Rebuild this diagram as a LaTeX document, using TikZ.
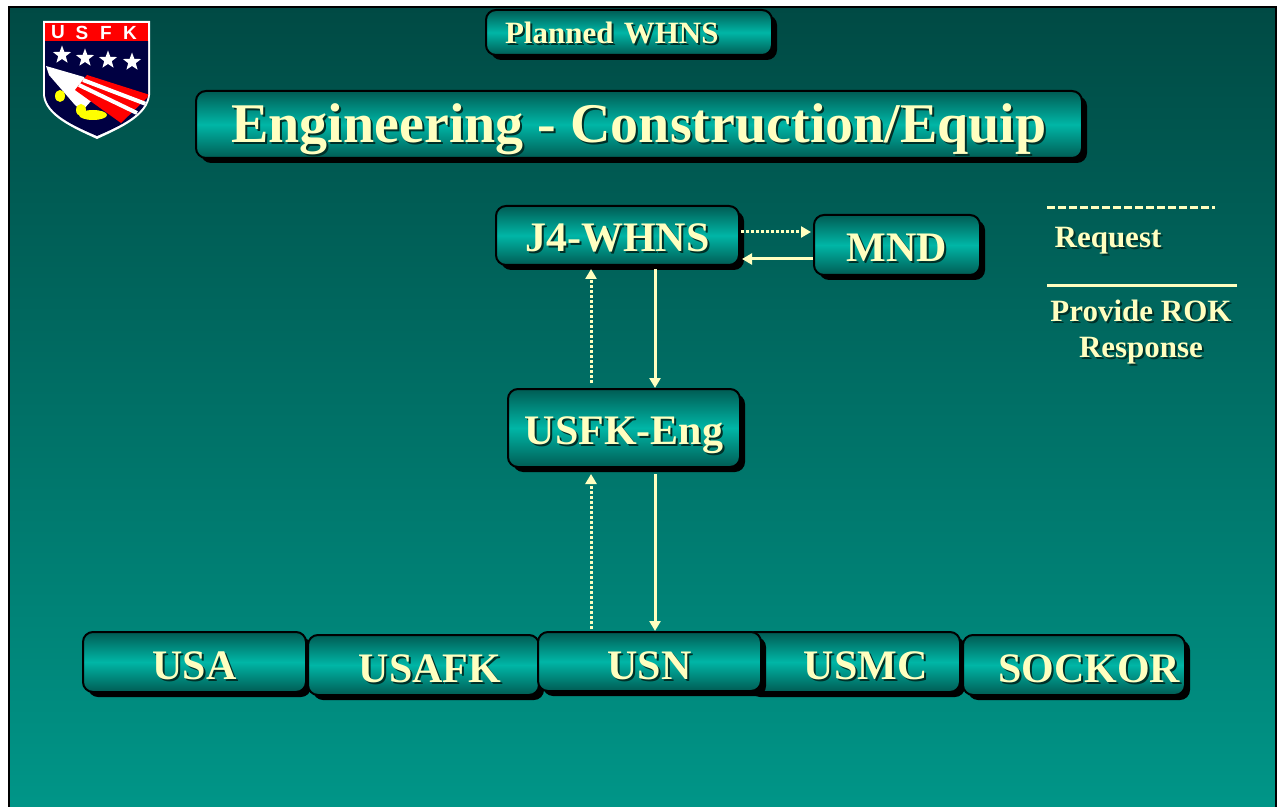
\documentclass[tikz,border=0pt]{standalone}
\usepackage{fontspec}
\setmainfont{Liberation Serif}
\newfontfamily\logofont{Liberation Sans}
\usepackage{xcolor}
\usepackage{tikz}
\usetikzlibrary{positioning, shapes.geometric, arrows.meta, shadows}

\definecolor{bgtop}{RGB}{0,74,68}
\definecolor{bgbot}{RGB}{0,150,136}
\definecolor{boxdark}{RGB}{0,92,84}
\definecolor{boxlight}{RGB}{0,182,166}
\definecolor{txtyellow}{RGB}{255,255,192}
\definecolor{txtshade}{RGB}{0,48,40}
\definecolor{shieldblue}{RGB}{0,0,66}
\definecolor{shieldred}{RGB}{255,0,0}
\definecolor{shieldgold}{RGB}{255,255,0}

% yellow text with a dark offset copy behind it
\newcommand{\shtxt}[1]{\makebox[0pt][l]{\kern1pt\raisebox{-1pt}{\textcolor{txtshade}{#1}}}#1}

\tikzset{
  box/.style={draw=black, line width=1pt, rounded corners=5pt,
    top color=boxdark, bottom color=boxdark, middle color=boxlight,
    drop shadow={shadow xshift=2.5pt, shadow yshift=-2.5pt, opacity=1, fill=black},
    text=txtyellow, font=\bfseries\fontsize{21}{24}\selectfont, inner sep=0pt,
    text height=16.5pt, text depth=0pt},
  unitbox/.style={box, text height=17.5pt, minimum height=30pt},
  req/.style={draw=txtyellow, line width=1.5pt, dash pattern=on 1.5pt off 1pt,
    -{Triangle[length=5pt,width=5.5pt]}},
  prov/.style={draw=txtyellow, line width=1.5pt, -{Triangle[length=5pt,width=5.5pt]}},
  keytext/.style={text=txtyellow, font=\bfseries\fontsize{15.5}{17}\selectfont, inner sep=0pt},
}

\begin{document}
\begin{tikzpicture}[x=0.5pt, y=-0.5pt]
    \useasboundingbox (0,0) rectangle (1278,807);
    \clip (0,0) rectangle (1278,807);
    % slide background
    \fill[white] (0,0) rectangle (1278,807);
    \draw[line width=1pt, top color=bgtop, bottom color=bgbot] (9,7) rectangle (1276,812);

    % USFK shield
    \fill[white] (43,21) -- (150,21) -- (150,95) .. controls (148,116) and (121,128) .. (97,139)
      .. controls (73,128) and (45,116) .. (43,95) -- cycle;
    \fill[shieldblue] (45,41) -- (148,41) -- (148,95) .. controls (146,114) and (120,126) .. (97,136)
      .. controls (74,126) and (47,114) .. (45,95) -- cycle;
    \fill[shieldred] (45,23) rectangle (148,41);
    \foreach \l [count=\i] in {U,S,F,K}
      \node[text=white, font=\logofont\bfseries\fontsize{9.5}{9.5}\selectfont, inner sep=0pt]
        (logo\i) at (34+24*\i,32.5) {\l};
    \foreach \x/\y [count=\i] in {62/55, 85/58, 108/60, 132/62}
      \node[star, star points=5, star point ratio=2.4, minimum size=9.5pt, inner sep=0pt, fill=white]
        (star\i) at (\x,\y) {};
    \begin{scope}
      \clip (45,41) -- (148,41) -- (148,95) .. controls (146,114) and (120,126) .. (97,136)
        .. controls (74,126) and (47,114) .. (45,95) -- cycle;
      \fill[white] (46,66) -- (84,77) -- (92,100) -- (82,111) -- (75,105) -- (49,75) -- cycle;
      \fill[shieldred] (87,75) -- (150,95) -- (121,123) -- (75,90) -- cycle;
      \draw[white, line width=2pt] (83,80) -- (146,104);
      \draw[white, line width=2pt] (79,85) -- (137,113);
      \fill[shieldgold] (60,96) ellipse (5 and 6);
      \fill[shieldgold] (93,115) ellipse (14 and 5);
      \fill[shieldgold] (81,110) ellipse (5 and 6);
    \end{scope}

    % header boxes
    \node[box, font=\bfseries\fontsize{15.5}{17}\selectfont, align=left, inner xsep=9.5pt,
      text width=124pt, text height=10.8pt, minimum height=22.5pt] (planned) at (629,32.5) {\shtxt{Planned WHNS}};
    \node[box, font=\bfseries\fontsize{28}{32}\selectfont, text height=18.5pt,
      minimum width=443pt, minimum height=33.5pt] (title) at (639,124.5) {\shtxt{Engineering - Construction/Equip}};

    % chain of command
    \node[box, minimum width=121.5pt, minimum height=29.5pt] (j4) at (617.5,235.5) {\shtxt{J4-WHNS}};
    \node[box, minimum width=83pt, minimum height=30pt] (mnd) at (897,245) {\shtxt{MND}};
    \node[box, minimum width=116pt, minimum height=39pt] (usfk) at (624,428) {\shtxt{USFK-Eng}};

    % components
    \node[unitbox, minimum width=111.5pt] (usa) at (194.5,662) {\shtxt{USA}};
    \node[unitbox, minimum width=115.5pt] (usafk) at (423.5,665) {\hspace*{6.5pt}\shtxt{USAFK}};
    \node[unitbox, minimum width=107.5pt] (usmc) at (852.5,662) {\hspace*{13pt}\shtxt{USMC}};
    \node[unitbox, minimum width=111.5pt, minimum height=29.5pt] (usn) at (649.5,661.5) {\shtxt{USN}};
    \node[unitbox, minimum width=111pt] (sockor) at (1074,665) {\hspace*{15pt}\shtxt{SOCKOR}};

    % connectors
    \coordinate (reqrow) at (0,232);
    \coordinate (provrow) at (0,259);
    \coordinate (reqcol) at (591,0);
    \coordinate (provcol) at (655,0);
    \draw[req, shorten <=0.5pt, shorten >=1pt] (j4.east |- reqrow) -- (mnd.west |- reqrow);
    \draw[prov, shorten >=1pt] (mnd.west |- provrow) -- (j4.east |- provrow);
    \draw[req, shorten <=2.5pt, shorten >=1.5pt] (usfk.north -| reqcol) -- (j4.south -| reqcol);
    \draw[prov, shorten <=1.5pt] (j4.south -| provcol) -- (usfk.north -| provcol);
    \draw[req, shorten <=1pt, shorten >=3pt] (usn.north -| reqcol) -- (usfk.south -| reqcol);
    \draw[prov, shorten <=3pt] (usfk.south -| provcol) -- (usn.north -| provcol);

    % legend
    \draw[txtyellow, line width=1.5pt, dash pattern=on 4pt off 1.5pt] (1047,208) -- (1215,208);
    \node[keytext] (request) at (1108,242) {\shtxt{Request}};
    \draw[txtyellow, line width=1.5pt] (1047,286) -- (1237,286);
    \node[keytext, align=center] (provide) at (1141,333) {\shtxt{Provide ROK}\\[1pt]\shtxt{Response}};
\end{tikzpicture}
\end{document}
